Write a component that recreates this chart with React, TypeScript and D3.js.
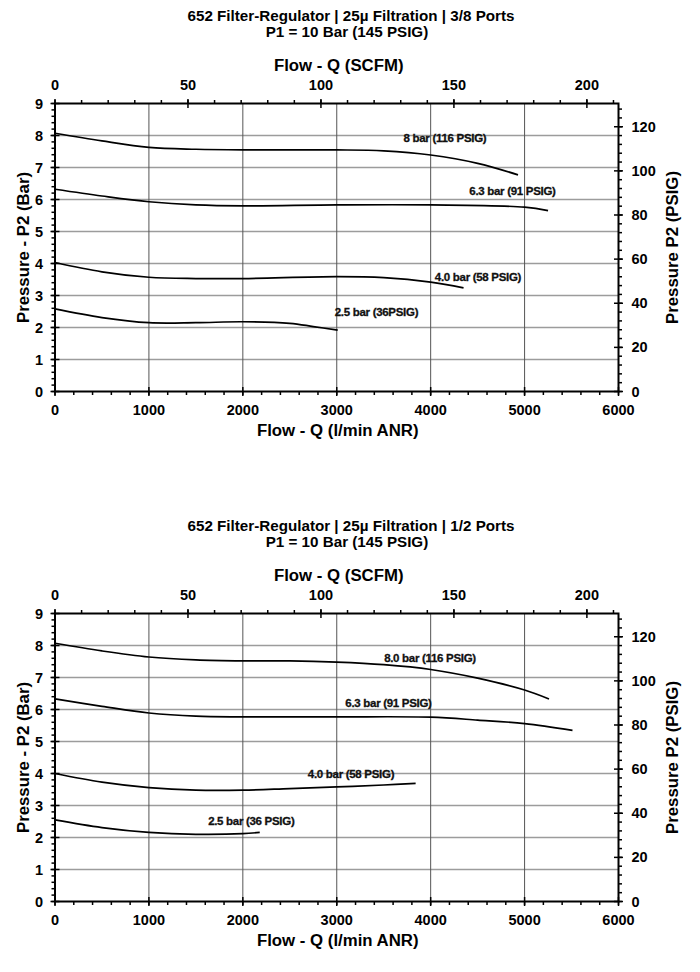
import React, { useEffect, useRef } from 'react';
import * as d3 from 'd3';

const LPM_PER_SCFM = 28.3168;
const PSI_PER_BAR = 14.5038;

// tick labels
const flowTicks = [0, 1000, 2000, 3000, 4000, 5000, 6000];
const barTicks = [0, 1, 2, 3, 4, 5, 6, 7, 8, 9];
const scfmTicks = [0, 50, 100, 150, 200];
const psiTicks = [0, 20, 40, 60, 80, 100, 120];

// 3/8 ports: [flow l/min ANR, P2 bar]
const p38_8bar: [number, number][] = [[0, 8.07], [500, 7.83], [1000, 7.63], [1500, 7.57], [2000, 7.55], [3000, 7.55], [3500, 7.52], [4000, 7.39], [4500, 7.13], [4930, 6.77]];
const p38_63bar: [number, number][] = [[0, 6.32], [500, 6.11], [1000, 5.93], [1500, 5.83], [2000, 5.8], [3000, 5.83], [4000, 5.83], [5000, 5.76], [5250, 5.65]];
const p38_40bar: [number, number][] = [[0, 4.03], [500, 3.74], [1000, 3.57], [1500, 3.53], [2000, 3.53], [3000, 3.59], [3500, 3.56], [4000, 3.42], [4350, 3.24]];
const p38_25bar: [number, number][] = [[0, 2.58], [500, 2.31], [1000, 2.15], [1500, 2.15], [2000, 2.18], [2500, 2.13], [2750, 2.03], [3010, 1.92]];
const labels38 = ['8 bar (116 PSIG)', '6.3 bar (91 PSIG)', '4.0 bar (58 PSIG)', '2.5 bar (36PSIG)'];

// 1/2 ports
const p12_8bar: [number, number][] = [[0, 8.07], [500, 7.83], [1000, 7.64], [1500, 7.55], [2000, 7.52], [2500, 7.52], [3000, 7.48], [3500, 7.4], [4000, 7.25], [4500, 6.98], [5000, 6.61], [5260, 6.33]];
const p12_63bar: [number, number][] = [[0, 6.33], [500, 6.1], [1000, 5.89], [1500, 5.79], [2000, 5.77], [3000, 5.77], [4000, 5.76], [4500, 5.67], [5000, 5.56], [5510, 5.35]];
const p12_40bar: [number, number][] = [[0, 4.0], [500, 3.73], [1000, 3.56], [1500, 3.48], [2000, 3.48], [2500, 3.53], [3000, 3.58], [3500, 3.64], [3840, 3.69]];
const p12_25bar: [number, number][] = [[0, 2.55], [500, 2.31], [1000, 2.16], [1500, 2.1], [2000, 2.12], [2180, 2.16]];
const labels12 = ['8.0 bar (116 PSIG)', '6.3 bar (91 PSIG)', '4.0 bar (58 PSIG)', '2.5 bar (36 PSIG)'];

const FONT = '"Liberation Sans", Arial, sans-serif';

type ChartCfg = {
  title: string;
  subtitle: string;
  series: [number, number][][];
  labels: string[];
  labelAt: [number, number][]; // label centre in data units
};

const charts: ChartCfg[] = [
  {
    title: '652 Filter-Regulator | 25\u00b5 Filtration | 3/8 Ports',
    subtitle: 'P1 = 10 Bar (145 PSIG)',
    series: [p38_8bar, p38_63bar, p38_40bar, p38_25bar],
    labels: labels38,
    labelAt: [[4152, 7.93], [4871, 6.27], [4504, 3.57], [3423, 2.49]],
  },
  {
    title: '652 Filter-Regulator | 25\u00b5 Filtration | 1/2 Ports',
    subtitle: 'P1 = 10 Bar (145 PSIG)',
    series: [p12_8bar, p12_63bar, p12_40bar, p12_25bar],
    labels: labels12,
    labelAt: [[3993, 7.6], [3551, 6.19], [3152, 3.98], [2090, 2.52]],
  },
];

const L = 55, R = 618.5, T = 103.5, B = 391.5;

function drawChart(svg: d3.Selection<SVGSVGElement, unknown, null, undefined>, top: number, cfg: ChartCfg) {
  const g = svg.append('g').attr('transform', `translate(0,${top})`);

  const x = d3.scaleLinear().domain([0, 6000]).range([L, R]);
  const xTop = d3.scaleLinear().domain([0, 6000 / LPM_PER_SCFM]).range([L, R]);
  const y = d3.scaleLinear().domain([0, 9]).range([B, T]);
  const yR = d3.scaleLinear().domain([0, 9 * PSI_PER_BAR]).range([B, T]);

  // titles
  g.append('text').attr('x', 351).attr('y', 21).attr('text-anchor', 'middle')
    .attr('font-size', 15.2).attr('font-weight', 'bold').text(cfg.title);
  g.append('text').attr('x', 347).attr('y', 37).attr('text-anchor', 'middle')
    .attr('font-size', 15.2).attr('font-weight', 'bold').text(cfg.subtitle);

  // grid
  g.append('g').selectAll('line')
    .data(barTicks.filter(v => v > 0 && v < 9))
    .join('line')
    .attr('x1', L).attr('x2', R)
    .attr('y1', d => y(d)).attr('y2', d => y(d))
    .attr('stroke', '#9c9c9c').attr('stroke-width', 1.5);
  g.append('g').selectAll('line')
    .data(flowTicks.filter(v => v > 0 && v < 6000))
    .join('line')
    .attr('x1', d => x(d)).attr('x2', d => x(d))
    .attr('y1', T).attr('y2', B)
    .attr('stroke', '#555').attr('stroke-width', 1);

  // curves
  const line = d3.line<[number, number]>()
    .x(d => x(d[0]))
    .y(d => y(d[1]))
    .curve(d3.curveCatmullRom.alpha(0.5));
  cfg.series.forEach(s => {
    g.append('path').datum(s)
      .attr('fill', 'none').attr('stroke', '#000').attr('stroke-width', 1.7)
      .attr('d', line);
  });

  // curve labels
  cfg.labels.forEach((t, i) => {
    g.append('text')
      .attr('x', x(cfg.labelAt[i][0])).attr('y', y(cfg.labelAt[i][1]) + 4)
      .attr('text-anchor', 'middle').attr('font-size', 11.5).attr('font-weight', 'bold')
      .attr('fill', '#111').attr('stroke', '#111').attr('stroke-width', 0.3)
      .attr('letter-spacing', -0.3)
      .text(t);
  });

  // frame
  g.append('rect').attr('x', L).attr('y', T).attr('width', R - L).attr('height', B - T)
    .attr('fill', 'none').attr('stroke', '#000').attr('stroke-width', 2);

  const ticks = g.append('g').attr('stroke', '#000').attr('stroke-width', 1.5);
  // minor ticks (outside)
  const minorBar = d3.range(0, 9.001, 0.2);
  const minorFlow = d3.range(0, 6000.1, 200);
  const minorScfm = d3.range(0, xTop.domain()[1], 10);
  const minorPsi = d3.range(0, yR.domain()[1], 4);
  ticks.append('g').selectAll('line').data(minorBar).join('line')
    .attr('x1', L - 3.5).attr('x2', L).attr('y1', d => y(d)).attr('y2', d => y(d));
  ticks.append('g').selectAll('line').data(minorPsi).join('line')
    .attr('x1', R).attr('x2', R + 3.5).attr('y1', d => yR(d)).attr('y2', d => yR(d));
  ticks.append('g').selectAll('line').data(minorFlow).join('line')
    .attr('x1', d => x(d)).attr('x2', d => x(d)).attr('y1', B).attr('y2', B + 3.5);
  ticks.append('g').selectAll('line').data(minorScfm).join('line')
    .attr('x1', d => xTop(d)).attr('x2', d => xTop(d)).attr('y1', T - 3.5).attr('y2', T);
  // major ticks (cross)
  ticks.append('g').selectAll('line').data(barTicks).join('line')
    .attr('x1', L - 4.5).attr('x2', L + 4.5).attr('y1', d => y(d)).attr('y2', d => y(d));
  ticks.append('g').selectAll('line').data(psiTicks).join('line')
    .attr('x1', R - 4.5).attr('x2', R + 4.5).attr('y1', d => yR(d)).attr('y2', d => yR(d));
  ticks.append('g').selectAll('line').data(flowTicks).join('line')
    .attr('x1', d => x(d)).attr('x2', d => x(d)).attr('y1', B - 4.5).attr('y2', B + 4.5);
  ticks.append('g').selectAll('line').data(scfmTicks).join('line')
    .attr('x1', d => xTop(d)).attr('x2', d => xTop(d)).attr('y1', T - 4.5).attr('y2', T + 4.5);

  // tick labels
  const lab = g.append('g').attr('font-size', 14.5).attr('font-weight', 'bold').attr('fill', '#000');
  lab.append('g').selectAll('text').data(barTicks).join('text')
    .attr('x', L - 12).attr('y', d => y(d) + 5).attr('text-anchor', 'end').text(d => d);
  lab.append('g').selectAll('text').data(psiTicks).join('text')
    .attr('x', R + 13).attr('y', d => yR(d) + 5).attr('text-anchor', 'start').text(d => d);
  lab.append('g').selectAll('text').data(flowTicks).join('text')
    .attr('x', d => x(d)).attr('y', B + 23.5).attr('text-anchor', 'middle').text(d => d);
  lab.append('g').selectAll('text').data(scfmTicks).join('text')
    .attr('x', d => xTop(d)).attr('y', T - 14).attr('text-anchor', 'middle').text(d => d);

  // axis titles
  const at = g.append('g').attr('font-size', 16.8).attr('font-weight', 'bold').attr('text-anchor', 'middle');
  at.append('text').attr('x', (L + R) / 2 + 2).attr('y', 71).text('Flow - Q (SCFM)');
  at.append('text').attr('x', (L + R) / 2 + 1).attr('y', 436).text('Flow - Q (l/min ANR)');
  at.append('text').attr('transform', `translate(28.5,${(T + B) / 2}) rotate(-90)`).text('Pressure - P2 (Bar)');
  at.append('text').attr('transform', `translate(677.5,${(T + B) / 2}) rotate(-90)`).text('Pressure P2 (PSIG)');
}

export default function App() {
  const svgRef = useRef<SVGSVGElement>(null);

  useEffect(() => {
    if (!svgRef.current) return;
    const svg = d3.select(svgRef.current);
    svg.selectAll('*').remove();
    charts.forEach((c, i) => drawChart(svg, i * 510, c));
  }, []);

  return (
    <div style={{ position: 'absolute', left: 0, top: 0 }}>
      <svg ref={svgRef} width={700} height={972} style={{ display: 'block', background: '#fff', fontFamily: FONT }} />
    </div>
  );
}
